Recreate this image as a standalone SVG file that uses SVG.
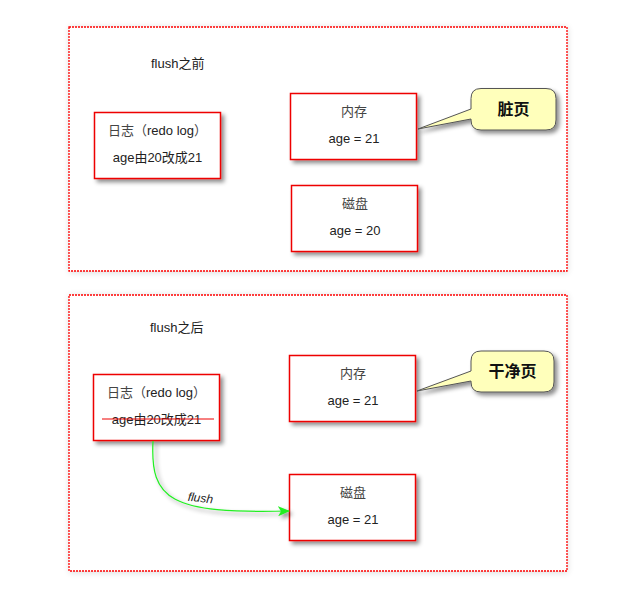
<svg xmlns="http://www.w3.org/2000/svg" width="635" height="611" viewBox="0 0 635 611">
<defs>
<filter id="sh" x="-20%" y="-20%" width="150%" height="160%"><feDropShadow dx="3" dy="3" stdDeviation="2" flood-color="#000" flood-opacity="0.45"/></filter>
<filter id="blur" x="-5%" y="-5%" width="110%" height="110%"><feGaussianBlur stdDeviation="3"/></filter>
<marker id="arr" viewBox="0 0 12 10" refX="11" refY="5" markerWidth="12" markerHeight="10" markerUnits="userSpaceOnUse" orient="auto"><path d="M0,0 L12,5 L0,10 L3,5 Z" fill="#22ee22"/></marker>
<style>
.frame{fill:none;stroke:#ff0000;stroke-width:1.3;stroke-dasharray:2,1}
.fsh{fill:#000;opacity:0.12}
.fbg{fill:#fff}
.box{fill:#fff;stroke:#ee0000;stroke-width:1.5}
.call{fill:#ffffbb;stroke:#555;stroke-width:1}
text{font-family:"Liberation Sans","Noto Sans CJK SC",sans-serif;font-size:13px;fill:#222;text-anchor:middle}
.cn{fill:#444}
.bold{font-size:16px;font-weight:bold;fill:#111}
.title{text-anchor:start}
</style>
</defs>
<g id="frame1">
<rect class="fsh" x="69" y="27" width="499" height="246" filter="url(#blur)"/>
<rect class="fbg" x="69" y="27" width="498" height="244"/>
<rect class="frame" x="69" y="27" width="498" height="244"/>
<text class="title" x="151" y="68">flush之前</text>
</g>
<g id="frame2">
<rect class="fsh" x="69" y="295" width="499" height="278" filter="url(#blur)"/>
<rect class="fbg" x="69" y="295" width="498" height="276"/>
<rect class="frame" x="69" y="295" width="498" height="276"/>
<text class="title" x="150" y="332">flush之后</text>
</g>
<g id="log1">
<rect class="box" x="94.5" y="112.5" width="126" height="66" filter="url(#sh)"/>
<text x="157.5" y="135"><tspan class="cn">日志（</tspan>redo log<tspan class="cn">）</tspan></text>
<text x="157.5" y="162">age由20改成21</text>
</g>
<g id="mem1">
<rect class="box" x="290.5" y="93.5" width="126" height="66" filter="url(#sh)"/>
<text class="cn" x="354" y="116">内存</text>
<text x="354" y="143">age = 21</text>
</g>
<g id="disk1">
<rect class="box" x="291.5" y="185.5" width="126" height="66" filter="url(#sh)"/>
<text class="cn" x="355" y="208">磁盘</text>
<text x="355" y="235">age = 20</text>
</g>
<g id="callout1">
<path class="call" d="M481,88.5 H546 Q556,88.5 556,98.5 V120 Q556,130 546,130 H481 Q471,130 471,120 V119 L418,129 L471,109 V98.5 Q471,88.5 481,88.5 Z" filter="url(#sh)"/>
<text class="bold" x="513.5" y="115">脏页</text>
</g>
<g id="log2">
<rect class="box" x="93.5" y="374.5" width="126" height="66" filter="url(#sh)"/>
<text x="156.5" y="397"><tspan class="cn">日志（</tspan>redo log<tspan class="cn">）</tspan></text>
<text x="156.5" y="424">age由20改成21</text>
<line x1="102" y1="419" x2="214" y2="419" stroke="#ee0000" stroke-width="1"/>
</g>
<g id="mem2">
<rect class="box" x="289.5" y="355.5" width="126" height="66" filter="url(#sh)"/>
<text class="cn" x="353" y="378">内存</text>
<text x="353" y="405">age = 21</text>
</g>
<g id="disk2">
<rect class="box" x="289.5" y="474.5" width="126" height="66" filter="url(#sh)"/>
<text class="cn" x="353" y="497">磁盘</text>
<text x="353" y="524">age = 21</text>
</g>
<g id="callout2">
<path class="call" d="M481,351 H544 Q554,351 554,361 V382 Q554,392 544,392 H481 Q471,392 471,382 V381 L417,391 L471,371 V361 Q471,351 481,351 Z" filter="url(#sh)"/>
<text class="bold" x="512.5" y="377">干净页</text>
</g>
<g id="connectors">
<path d="M153,441 C150,500 170,514 289,511" fill="none" stroke="#22ee22" stroke-width="1.2" marker-end="url(#arr)" filter="url(#sh)"/>
<text x="200" y="502" transform="rotate(6 200 502)" style="font-style:italic;font-size:12px">flush</text>
</g>
</svg>
